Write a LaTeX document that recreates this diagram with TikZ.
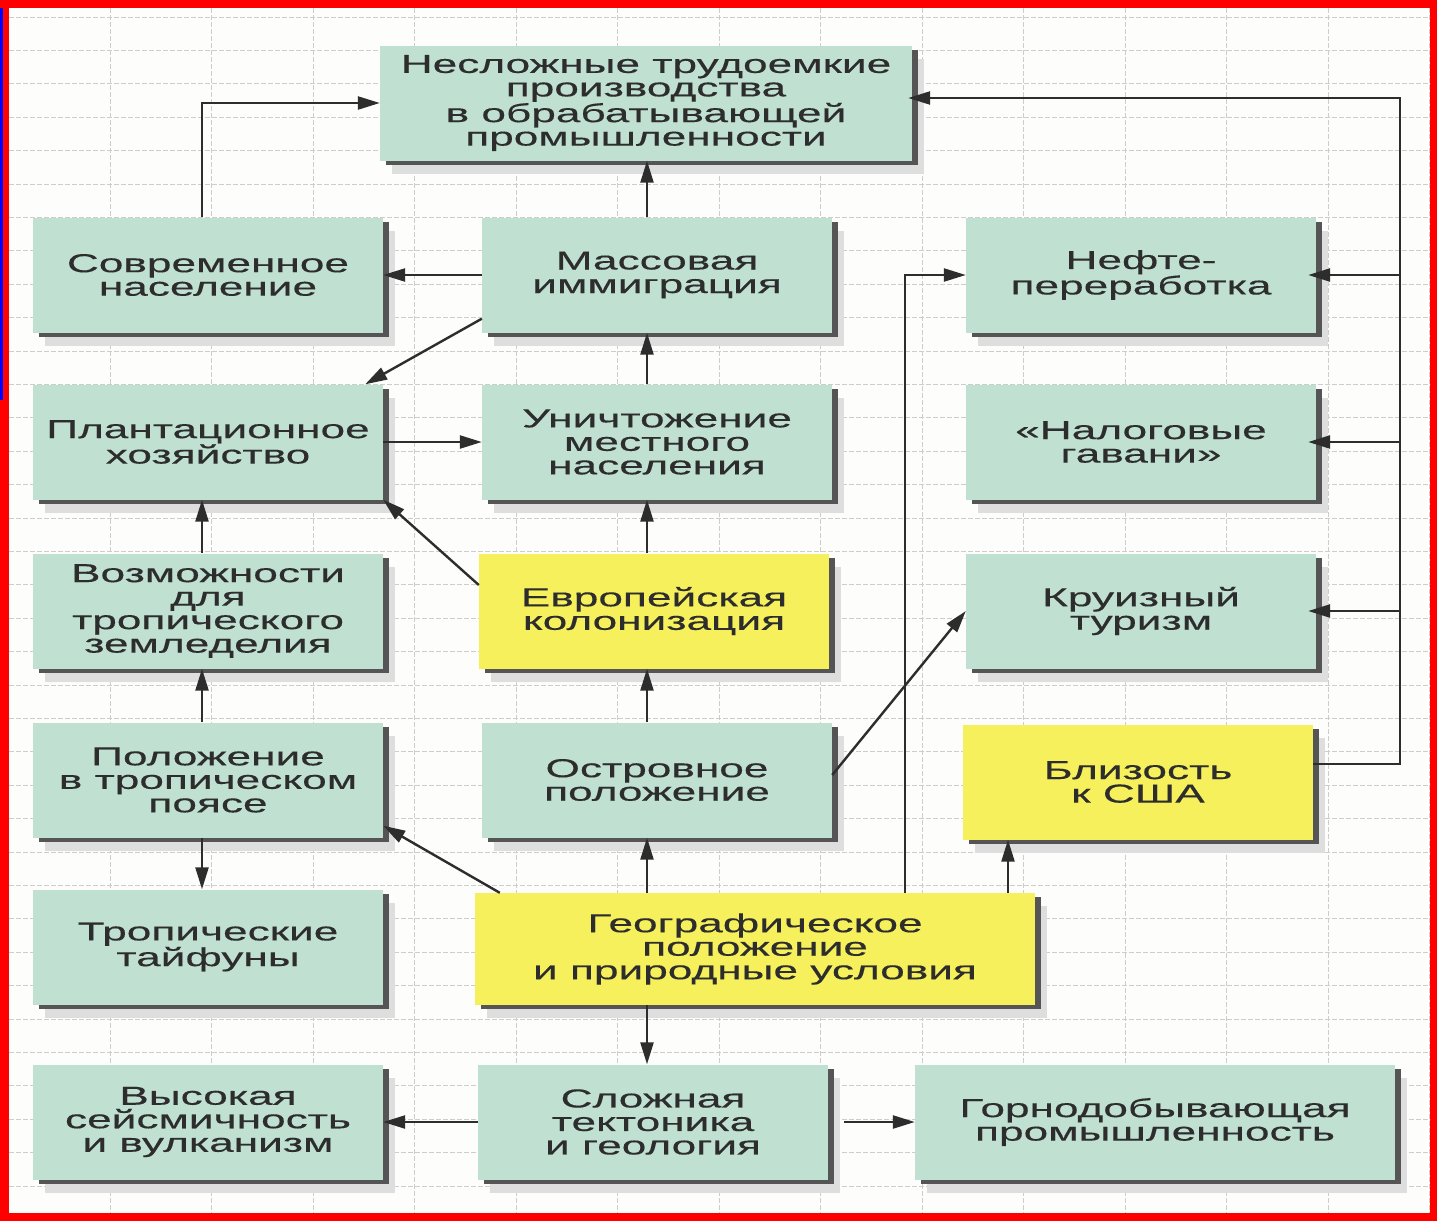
\documentclass[tikz,border=0pt]{standalone}
\usepackage{fontspec}
\setmainfont[FakeStretch=1.7,FakeBold=0.3]{Liberation Sans}
\usetikzlibrary{arrows.meta,shadows}

\definecolor{boxgreen}{RGB}{192,224,210}
\definecolor{boxyellow}{RGB}{246,240,92}
\definecolor{inkgray}{RGB}{45,45,45}
\definecolor{shadowdark}{RGB}{85,85,85}
\definecolor{gridgray}{RGB}{205,205,205}
\definecolor{paper}{RGB}{253,253,251}

\tikzset{
  factor/.style={rectangle, fill=boxgreen, text=inkgray, inner sep=0pt,
    minimum width=350pt, minimum height=115pt, align=center,
    font=\fontsize{26}{23.5}\selectfont,
    general shadow={fill=black!13, shadow xshift=12pt, shadow yshift=-13pt},
    general shadow={fill=shadowdark, shadow xshift=6pt, shadow yshift=-4pt}},
  keyfactor/.style={factor, fill=boxyellow},
  link/.style={draw=inkgray, line width=2.4pt, -{Triangle[length=22pt,width=13pt]}},
  gridline/.style={gridgray, line width=0.8pt, dash pattern=on 5pt off 2pt}
}

\begin{document}
\begin{tikzpicture}[x=1pt, y=-1pt]
\useasboundingbox (0,0) rectangle (1437,1221);
\fill[red] (0,0) rectangle (1437,1221);
\fill[blue] (0,8) rectangle (3,400);
\fill[paper] (9,8) rectangle (1430,1213);
\foreach \gx in {110,211.5,...,1430}
  \draw[gridline] (\gx,8) -- (\gx,1213);
\foreach \gy in {17,50.4,...,1213}
  \draw[gridline] (9,\gy) -- (1430,\gy);

\node[factor, minimum width=532pt] (industry) at (646,103) {Несложные трудоемкие\\производства\\в обрабатывающей\\промышленности};

\node[factor] (population) at (208,275) {Современное\\население};
\node[factor] (immigration) at (657,275) {Массовая\\иммиграция};
\node[factor] (refining) at (1141,275) {Нефте-\\переработка};

\node[factor] (plantation) at (208,442) {Плантационное\\хозяйство};
\node[factor] (genocide) at (657,442) {Уничтожение\\местного\\населения};
\node[factor] (offshore) at (1141,442) {«Налоговые\\гавани»};

\node[factor] (farming) at (208,611) {Возможности\\для\\тропического\\земледелия};
\node[keyfactor] (colonization) at (654,611) {Европейская\\колонизация};
\node[factor] (cruise) at (1141,611) {Круизный\\туризм};

\node[factor] (tropics) at (208,780) {Положение\\в тропическом\\поясе};
\node[factor] (island) at (657,780) {Островное\\положение};
\node[keyfactor] (nearusa) at (1138,782) {Близость\\к США};

\node[factor] (typhoons) at (208,947) {Тропические\\тайфуны};
\node[keyfactor, minimum width=560pt, minimum height=112pt] (geography) at (755,949) {Географическое\\положение\\и природные условия};

\node[factor] (seismic) at (208,1122) {Высокая\\сейсмичность\\и вулканизм};
\node[factor] (tectonics) at (653,1122) {Сложная\\тектоника\\и геология};
\node[factor, minimum width=480pt] (mining) at (1155,1122) {Горнодобывающая\\промышленность};

\coordinate (lspine) at (202,0);
\coordinate (spine) at (647,0);
\coordinate (gtap) at (905,0);
\coordinate (utap) at (1008,0);
\coordinate (rspine) at (1400,98);

\draw[link] (lspine |- population.north) |- (industry.west);
\draw[link] (lspine |- farming.north) -- (lspine |- plantation.south);
\draw[link] (lspine |- tropics.north) -- (lspine |- farming.south);
\draw[link] (lspine |- tropics.south) -- (lspine |- typhoons.north);

\draw[link] (spine |- immigration.north) -- (spine |- industry.south);
\draw[link] (spine |- genocide.north) -- (spine |- immigration.south);
\draw[link] (spine |- colonization.north) -- (spine |- genocide.south);
\draw[link] (spine |- island.north) -- (spine |- colonization.south);
\draw[link] (spine |- geography.north) -- (spine |- island.south);
\draw[link] (spine |- geography.south) -- (spine |- tectonics.north);

\draw[link] (immigration.west) -- (population.east);
\draw[link] (plantation.east) -- (genocide.west);
\draw[link] (tectonics.west) -- (seismic.east);
\draw[link, shorten <=16pt] (tectonics.east) -- (mining.west);

\draw[link] ([yshift=14pt]immigration.south west) -- ([xshift=-18pt]plantation.north east);
\draw[link] ([yshift=26pt]colonization.west) -- (plantation.south east);
\draw[link] ([yshift=5pt]island.east) -- (cruise.west);
\draw[link] ([xshift=25pt]geography.north west) -- ([yshift=12pt]tropics.south east);

\draw[link] (gtap |- geography.north) |- (refining.west);
\draw[link] (utap |- geography.north) -- (utap |- nearusa.south);

\draw[link, shorten >=-4pt] ([yshift=18pt]nearusa.east) -| (rspine) -- (rspine -| industry.east);
\draw[link, shorten >=-8pt] (rspine |- refining.east) -- (refining.east);
\draw[link, shorten >=-8pt] (rspine |- offshore.east) -- (offshore.east);
\draw[link, shorten >=-8pt] (rspine |- cruise.east) -- (cruise.east);
\end{tikzpicture}
\end{document}
